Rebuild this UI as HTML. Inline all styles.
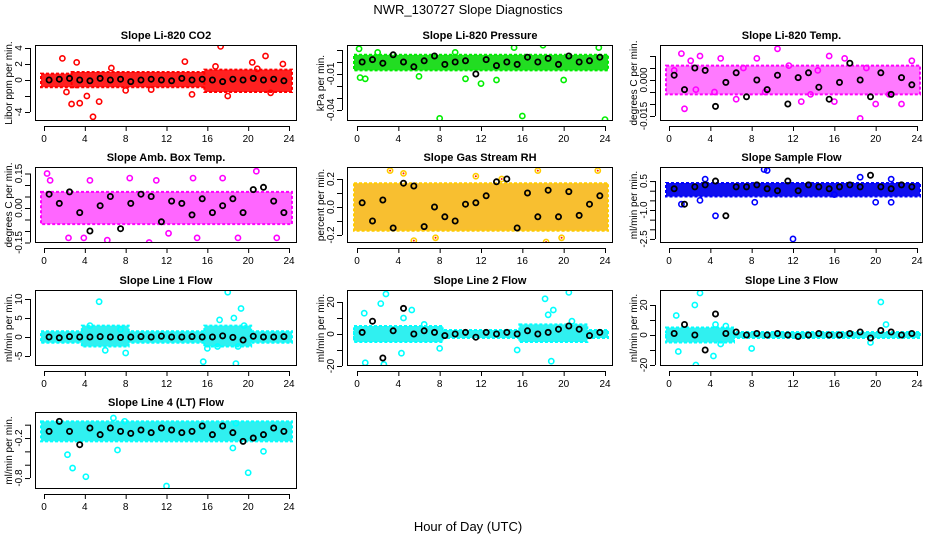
<!DOCTYPE html>
<html><head><meta charset="utf-8">
<style>
html,body{margin:0;padding:0;background:#fff;}
svg{display:block;font-family:"Liberation Sans",sans-serif;}
</style></head>
<body>
<svg id="chart" width="936" height="540" viewBox="0 0 936 540" xmlns="http://www.w3.org/2000/svg">
<text x="468" y="14" font-size="13" text-anchor="middle">NWR_130727  Slope Diagnostics</text>
<text x="468" y="531" font-size="13" text-anchor="middle">Hour of Day (UTC)</text>
</svg>
<script>
// ---- shared data ----
const hourTicks = [0,4,8,12,16,20,24];
const blackHours = [0.5,1.5,2.5,3.5,4.5,5.5,6.5,7.5,8.5,9.5,10.5,11.5,12.5,13.5,14.5,15.5,16.5,17.5,18.5,19.5,20.5,21.5,22.5,23.5];

// panel 1 CO2
const co2Band = [[0,3,-0.9,0.8],[3,16,-0.9,1.0],[16,24,-1.5,1.3]];
const co2OutX = [1.8,2.7,3.2,3.5,4.2,4.8,5.4,2.2,6.6,10.5,13.8,14.5,17.3,18,20.4,21.7,20.9,22.2,23.4,8,16.8];
const co2OutY = [2.7,-3,2.2,-2.9,-2,-4.6,-2.7,-1.5,1.5,-1.2,2.3,-1.8,4.2,-2,2.2,3,1.4,-1.6,2,-1.3,1.7];
const co2Black = [0,0.1,0.2,0,-0.1,0.2,0,0.1,-0.2,0,0.1,0,-0.1,0.2,0,0.1,0,-0.2,0.1,0,0.2,0,0.1,-0.1];
// panel 2 pressure
const presBand = [[0,24,-0.007,0.006]];
const presOutX = [0.3,0.8,0.2,2,8,16,24,12,13.5,10.5,18,15.2,20,23.4,6,9.5];
const presOutY = [-0.013,-0.014,0.011,0.008,-0.047,-0.045,-0.048,-0.018,-0.015,-0.014,0.014,0.012,-0.015,0.012,-0.012,0.008];
const presBlack = [0,0.002,-0.001,0.006,0,-0.004,0.001,0.005,-0.002,0,0.001,-0.01,0.002,-0.003,0,-0.002,0.004,0,0.003,-0.002,0.005,0,0.001,0.004];
// panel 3 li temp
const ltBand = [[0,24,-0.006,0.006]];
const ltOutX = [1.2,10.5,18.5,1.5,2.1,3,5,15.5,17,8.5,22.5,12.8,16,6.5,20,23.5,0.5,4.4,7.2,9.3,11.6,13.7,19.1,21.3,14.4,2.6];
const ltOutY = [0.011,0.013,-0.016,-0.012,0.008,0.01,0.009,0.01,0.009,0.009,-0.01,-0.009,-0.009,-0.008,-0.01,0.008,0.004,-0.005,0.005,-0.005,0.006,-0.006,0.005,-0.006,0.004,-0.004];
const ltBlack = [0.002,-0.004,0.005,0.004,-0.011,-0.001,0.003,-0.007,0,-0.004,0.002,-0.01,0.001,0.003,-0.003,-0.008,-0.001,0.007,0,-0.007,0.003,-0.006,0.001,-0.002];
// panel 4 amb box temp
const abBand = [[0,24,-0.07,0.07]];
const abOutX = [0.3,0.6,2.4,3.9,6.2,8.4,10.3,11,15,14.6,20.8,22.8,19,17.5,4.5,12.2];
const abOutY = [0.15,0.12,-0.13,-0.13,-0.14,0.13,-0.15,0.12,-0.13,0.13,0.16,-0.13,-0.13,0.13,0.12,-0.11];
const abBlack = [0.06,0.02,0.07,-0.02,-0.1,0.01,0.05,-0.09,0.02,0.06,0.05,-0.06,0.03,0.02,-0.03,0.04,-0.02,0.01,0.04,-0.02,0.08,0.09,0.03,-0.02];
// panel 5 gas RH
const rhBand = [[0,24,-0.17,0.17]];
const rhOutX = [3.2,5.5,7.6,11.5,17.5,18.3,19.8,23.3,4.5,14];
const rhOutY = [0.26,-0.24,-0.22,0.22,0.26,-0.25,-0.22,0.26,0.24,0.2];
const rhBlack = [0.03,-0.1,0.05,-0.15,0.17,0.15,-0.14,0,-0.07,-0.1,0.02,0.03,0.08,0.18,0.2,-0.15,0.1,-0.07,0.12,-0.07,0.11,-0.06,0.02,0.08];
// panel 6 sample flow
const sfBand = [[0,24,-0.3,0.4]];
const sfOutX = [9.2,9.5,12,4.5,1.2,3,8.3,18.5,20,21.5,16,21.5,3.5];
const sfOutY = [1.1,1.05,-2.5,-1.3,-0.7,-0.5,-0.6,0.7,-0.6,-0.6,-0.2,0.6,0.6];
const sfBlack = [0.1,-0.7,0.2,0.3,0.5,-1.3,0.2,0.2,0.3,0.1,0,0.5,0,0.3,0.2,0.1,0.2,0.3,0.2,0.8,0.2,0.1,0.3,0.2];
// panel 7 line 1
const l1Band = [[0,24,-1.5,1.5],[4,8,-2.5,3],[16,20,-2.5,3]];
const l1OutX = [5.4,6,8,15.6,18,18.8,19.3,17.2,18.6,19.6,16,17,19,7.5,4.5];
const l1OutY = [9.3,-3.5,-4.2,-6.5,11.8,-7,7.5,4.5,5,3,-3,-2.5,-2.5,2,3];
const l1Black = [0,-0.2,0.1,0,0,0.1,0,-0.1,0,0.1,0,0.2,0,0,0.1,0,0,0.3,-0.1,-0.8,0.2,0,0,0.1];
// panel 8 line 2
const l2Band = [[0,24,-2.5,2.5],[0,8,-5,5],[16,22,-5,6]];
const l2OutX = [0.7,0.8,2.3,2.6,2.8,4.3,5.3,4.5,8,15.5,18.2,18.8,19,20.5,18.5,20.8,6.5];
const l2OutY = [13,-18,19,-19,25,-12,15,10,-9,-10,22,-17,15,26,12,8,6];
const l2Black = [1,8,-15,2,16,0,2,1,-1,0,1,-2,1,0,1,0,2,0,1,3,5,3,-1,1];
// panel 9 line 3
const l3Band = [[0,24,-2,2],[0,6,-5,5]];
const l3OutX = [0.7,0.9,2.5,2.6,3,4.3,4.5,5.5,8,20.5,21,19.5,5];
const l3OutY = [13,-11,20,-20,28,-14,7,6,-9,22,7,-5,-6];
const l3Black = [1,7,0,-10,14,1,2,0,1,0,1,0,-1,0,1,0,0,1,2,-2,3,2,0,1];
// panel 10 line 4
const l4Band = [[0,24,-0.25,0.05]];
const l4OutX = [2.3,2.8,4.1,6.8,7.9,7.2,12,20,21.5,18.8,18.5];
const l4OutY = [-0.45,-0.65,-0.78,0.1,0.05,-0.38,-0.92,-0.72,-0.4,0.02,-0.35];
const l4Black = [-0.1,0.05,-0.1,-0.3,-0.05,-0.15,-0.05,-0.1,-0.13,-0.08,-0.12,-0.05,-0.08,-0.12,-0.1,-0.02,-0.15,-0.02,-0.12,-0.25,-0.2,-0.15,-0.05,-0.1];

// ---- layout ----
const rowTop=[45,167,290,412], rowBot=[121,243,366,489];
const colL=[35,347,660], colR=[297,613,923], colX0=[44,357,669], colX24=[289,605,917];

const panels = [
 {name:'co2',title:'Slope Li-820 CO2',ylab:'Libor ppm per min.',r:0,c:0,dom:[-5.125,4.375],ticks:[-4,-2,0,2,4],labs:['-4','','0','2','4'],col:'#ff0000',fill:'#ff2020',band:co2Band,ox:co2OutX,oy:co2OutY,bk:co2Black},
 {name:'pressure',title:'Slope Li-820 Pressure',ylab:'kPa per min.',r:0,c:1,dom:[-0.04917,0.01417],ticks:[-0.04,-0.03,-0.02,-0.01,0,0.01],labs:['-0.04','','','-0.01','',''],col:'#00ee00',fill:'#22dd22',band:presBand,ox:presOutX,oy:presOutY,bk:presBlack},
 {name:'li-temp',title:'Slope Li-820 Temp.',ylab:'degrees C per min.',r:0,c:2,dom:[-0.01708,0.01458],ticks:[-0.015,-0.01,-0.005,0,0.005,0.01],labs:['-0.015','','','0.000','',''],col:'#ff00ff',fill:'#ff7aff',band:ltBand,ox:ltOutX,oy:ltOutY,bk:ltBlack},
 {name:'amb-box-temp',title:'Slope Amb. Box Temp.',ylab:'degrees C per min.',r:1,c:0,dom:[-0.1522,0.1783],ticks:[-0.15,-0.1,-0.05,0,0.05,0.1,0.15],labs:['-0.15','','','0.00','','','0.15'],col:'#ff00ff',fill:'#ff66ff',band:abBand,ox:abOutX,oy:abOutY,bk:abBlack},
 {name:'gas-stream-rh',title:'Slope Gas Stream RH',ylab:'percent per min.',r:1,c:1,dom:[-0.2571,0.2857],ticks:[-0.2,-0.1,0,0.1,0.2],labs:['-0.2','','0.0','','0.2'],col:'#ffcc00',fill:'#f8bf30',band:rhBand,ox:rhOutX,oy:rhOutY,bk:rhBlack,inner:'#ff2000'},
 {name:'sample-flow',title:'Slope Sample Flow',ylab:'ml/min per min.',r:1,c:2,dom:[-2.71,1.228],ticks:[-2.5,-2,-1.5,-1,-0.5,0,0.5],labs:['-2.5','','','-1.0','','','0.5'],col:'#0000ff',fill:'#1010ee',band:sfBand,ox:sfOutX,oy:sfOutY,bk:sfBlack},
 {name:'line1-flow',title:'Slope Line 1 Flow',ylab:'ml/min per min.',r:2,c:0,dom:[-7.63,12.37],ticks:[-5,0,5,10],labs:['-5','0','5','10'],col:'#00ffff',fill:'#30f0f0',band:l1Band,ox:l1OutX,oy:l1OutY,bk:l1Black},
 {name:'line2-flow',title:'Slope Line 2 Flow',ylab:'ml/min per min.',r:2,c:1,dom:[-20,27.5],ticks:[-20,-10,0,10,20],labs:['-20','','0','','20'],col:'#00ffff',fill:'#30f0f0',band:l2Band,ox:l2OutX,oy:l2OutY,bk:l2Black},
 {name:'line3-flow',title:'Slope Line 3 Flow',ylab:'ml/min per min.',r:2,c:2,dom:[-20.67,30],ticks:[-20,-10,0,10,20],labs:['-20','','0','','20'],col:'#00ffff',fill:'#30f0f0',band:l3Band,ox:l3OutX,oy:l3OutY,bk:l3Black},
 {name:'line4-flow',title:'Slope Line 4 (LT) Flow',ylab:'ml/min per min.',r:3,c:0,dom:[-0.964,0.19],ticks:[-0.8,-0.6,-0.4,-0.2,0],labs:['-0.8','','','-0.2',''],col:'#00ffff',fill:'#30f0f0',band:l4Band,ox:l4OutX,oy:l4OutY,bk:l4Black}
];

const NS='http://www.w3.org/2000/svg';
const svg=document.getElementById('chart');
function mk(tag,attrs,parent){const e=document.createElementNS(NS,tag);for(const k in attrs)e.setAttribute(k,attrs[k]);(parent||svg).appendChild(e);return e;}

panels.forEach(p=>{
  const top=rowTop[p.r], bot=rowBot[p.r], L=colL[p.c], R=colR[p.c];
  const x0=colX0[p.c], x24=colX24[p.c];
  const xs=h=>x0+(x24-x0)*h/24;
  const ys=v=>bot-(v-p.dom[0])/(p.dom[1]-p.dom[0])*(bot-top);
  const g=mk('g',{});
  
  
  const clip=mk('clipPath',{id:'clip-'+p.name},g);
  mk('rect',{x:L,y:top,width:R-L,height:bot-top},clip);
  const plot=mk('g',{'clip-path':'url(#clip-'+p.name+')'},g);
  
  
  p.band.forEach(b=>{
    const r=mk('rect',{x:xs(b[0])-3,y:ys(b[3]),width:xs(b[1])-xs(b[0])+6,height:ys(b[2])-ys(b[3]),fill:p.fill,stroke:p.col,'stroke-width':2,'stroke-dasharray':'3 2'},plot);
    
    
  });
  p.ox.forEach((h,i)=>{
    const c=mk('circle',{cx:xs(h),cy:ys(p.oy[i]),r:2.6,fill:'none',stroke:p.col,'stroke-width':1.6},plot);
    
    
    if(p.inner){mk('circle',{cx:xs(h),cy:ys(p.oy[i]),r:1,fill:p.inner},plot);}
  });
  blackHours.forEach((h,i)=>{
    const c=mk('circle',{cx:xs(h),cy:ys(p.bk[i]),r:2.6,fill:'none',stroke:'#000','stroke-width':1.8},plot);
    
    
  });
  const box=mk('rect',{x:L+0.5,y:top+0.5,width:R-L-1,height:bot-top-1,fill:'none',stroke:'#000','stroke-width':1},g);
  
  
  const t=mk('text',{x:(L+R)/2,y:top-6,'font-size':11,'font-weight':'bold','text-anchor':'middle'},g);
  t.textContent=p.title;
  
  
  const ax=bot+5;
  const xa=mk('line',{x1:xs(0),x2:xs(24),y1:ax+0.5,y2:ax+0.5,stroke:'#000'},g);
  
  
  hourTicks.forEach(h=>{
    mk('line',{x1:xs(h)+0.5,x2:xs(h)+0.5,y1:ax,y2:ax+5,stroke:'#000'},g);
    const tl=mk('text',{x:xs(h),y:ax+16,'font-size':10,'text-anchor':'middle'},g);
    tl.textContent=h;
    
    
  });
  const yx=L-5;
  const tv=p.ticks.filter(v=>v>=p.dom[0]-1e-9);
  const ya=mk('line',{x1:yx+0.5,x2:yx+0.5,y1:ys(tv[0]),y2:ys(tv[tv.length-1]),stroke:'#000'},g);
  
  
  p.ticks.forEach((v,i)=>{
    if(v<p.dom[0]-1e-9) return;
    const yy=ys(v);
    mk('line',{x1:yx-5,x2:yx,y1:yy+0.5,y2:yy+0.5,stroke:'#000'},g);
    if(p.labs[i]){
      const tl=mk('text',{x:yx-8,y:yy,'font-size':10,'text-anchor':'middle',transform:'rotate(-90 '+(yx-8)+' '+yy+')'},g);
      tl.textContent=p.labs[i];
      
      
    }
  });
  const yl=mk('text',{x:L-23,y:(top+bot)/2,'font-size':10,'text-anchor':'middle',transform:'rotate(-90 '+(L-23)+' '+((top+bot)/2)+')'},g);
  yl.textContent=p.ylab;
  
  
});
</script>
</body></html>
